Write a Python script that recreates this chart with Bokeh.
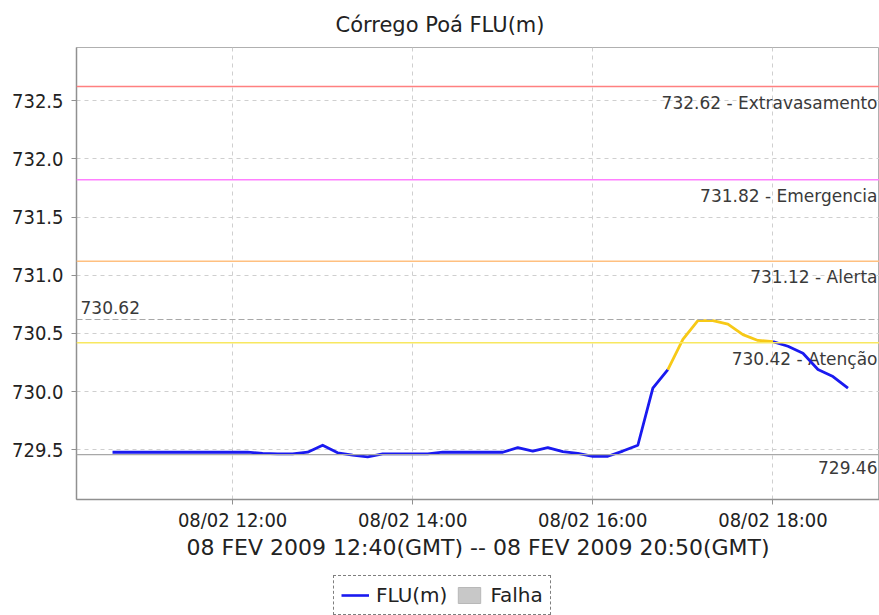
import pandas as pd
from bokeh.plotting import figure
from bokeh.layouts import column
from bokeh.models import (Range1d, FixedTicker, DatetimeTickFormatter, PrintfTickFormatter,
                          Span, ColumnDataSource, Legend, LegendItem)
from bokeh.embed import file_html
from bokeh.resources import INLINE
from bokeh.core.properties import value

# ---------------- data ----------------
titulo = "Córrego Poá FLU(m)"
eixo_x_rotulo = "08 FEV 2009 12:40(GMT) -- 08 FEV 2009 20:50(GMT)"
dia = "2009-02-08"

horas = ["10:40", "10:50", "11:00", "11:10", "11:20", "11:30", "11:40", "11:50",
         "12:00", "12:10", "12:20", "12:30", "12:40", "12:50", "13:00", "13:10",
         "13:20", "13:30", "13:40", "13:50", "14:00", "14:10", "14:20", "14:30",
         "14:40", "14:50", "15:00", "15:10", "15:20", "15:30", "15:40", "15:50",
         "16:00", "16:10", "16:20", "16:30", "16:40", "16:50", "17:00", "17:10",
         "17:20", "17:30", "17:40", "17:50", "18:00", "18:10", "18:20", "18:30",
         "18:40", "18:50"]

nivel = [729.48, 729.48, 729.48, 729.48, 729.48, 729.48, 729.48, 729.48,
         729.48, 729.48, 729.47, 729.465, 729.465, 729.48, 729.54, 729.475,
         729.455, 729.44, 729.465, 729.465, 729.465, 729.465, 729.48, 729.48,
         729.48, 729.48, 729.48, 729.52, 729.49, 729.52, 729.485, 729.47,
         729.445, 729.445, 729.49, 729.54, 730.03, 730.19, 730.45, 730.61,
         730.61, 730.58, 730.49, 730.44, 730.43, 730.39, 730.33, 730.19,
         730.13, 730.03]

# stretches drawn in the "attention" colour (start, end)
trechos_atencao = [("16:50", "18:00")]

limiares = [732.62, 731.82, 731.12, 730.42]
limiares_nomes = ["Extravasamento", "Emergencia", "Alerta", "Atenção"]

nivel_maximo = 730.62
nivel_minimo = 729.46

x_ticks_horas = ["12:00", "14:00", "16:00", "18:00"]
y_ticks = [729.5, 730.0, 730.5, 731.0, 731.5, 732.0, 732.5]

x_inicio = "10:16"
x_fim = "19:11"
y_inicio = 729.074
y_fim = 732.956

legenda = ["FLU(m)", "Falha"]

# ---------------- styles ----------------
cores_limiares = ["#FF8080", "#FF80FF", "#FFC080", "#F8E860"]
cor_normal = "#1A1AF0"
cor_atencao = "#F7C917"
cor_falha = "#c8c8c8"
texto_cor = "#3a3a3a"
FONT = "DejaVu Sans"
FONT_C = "DejaVu Sans Condensed"
NAN = float("nan")


def ts(h):
    return pd.Timestamp(f"{dia} {h}")


t = [ts(h) for h in horas]

p = figure(width=879, height=575, x_axis_type="datetime",
           output_backend="svg", toolbar_location=None,
           x_range=Range1d(ts(x_inicio), ts(x_fim)),
           y_range=Range1d(y_inicio, y_fim),
           min_border_left=76, min_border_right=0, min_border_top=46,
           min_border_bottom=76,
           background_fill_color="white", border_fill_color="white")

# title
p.title.text = titulo
p.title.align = "left"
p.title.offset = 259
p.title.text_font = FONT
p.title.text_font_size = "21px"
p.title.text_font_style = "normal"
p.title.text_color = "#222222"
p.title.standoff = 21

p.outline_line_color = "#b0b0b0"
p.outline_line_width = 1

# grid
for g in (p.xgrid, p.ygrid):
    g.grid_line_color = "#cfcfcf"
    g.grid_line_dash = "4 4"
    g.grid_line_width = 1

# axes
p.yaxis.ticker = FixedTicker(ticks=y_ticks)
p.yaxis.formatter = PrintfTickFormatter(format="%.1f")
p.xaxis.ticker = FixedTicker(ticks=[ts(h).value // 10**6 for h in x_ticks_horas])
fmt = "%d/%m %H:%M"
p.xaxis.formatter = DatetimeTickFormatter(hours=fmt, hourmin=fmt, minutes=fmt,
                                          minsec=fmt, days=fmt, seconds=fmt)
for ax in (p.xaxis, p.yaxis):
    ax.axis_line_color = "#909090"
    ax.axis_line_width = 1.5
    ax.major_tick_line_color = "#909090"
    ax.major_tick_out = 5
    ax.major_tick_in = 0
    ax.minor_tick_line_color = None
    ax.major_label_text_font = FONT_C
    ax.major_label_text_font_size = "20px"
    ax.major_label_text_color = "#222222"
p.yaxis.major_label_standoff = 8
p.xaxis.major_label_standoff = 3
p.xaxis.axis_label = eixo_x_rotulo
p.xaxis.axis_label_text_font = FONT
p.xaxis.axis_label_text_font_size = "22px"
p.xaxis.axis_label_text_font_style = "normal"
p.xaxis.axis_label_text_color = "#222222"
p.xaxis.axis_label_standoff = 0

# threshold lines
for v, c in zip(limiares, cores_limiares):
    p.add_layout(Span(location=v, dimension="width", line_color=c, line_width=1.5))
p.add_layout(Span(location=nivel_maximo, dimension="width", line_color="#a8a8a8",
                  line_width=1.2, line_dash="6 3"))
p.add_layout(Span(location=nivel_minimo, dimension="width", line_color="#a8a8a8",
                  line_width=1.2))

# threshold labels (right side, below each line)
lab_src = ColumnDataSource(dict(
    x=[ts(x_fim)] * (len(limiares) + 1),
    y=limiares + [nivel_minimo],
    text=[f"{v:.2f} - {n}" for v, n in zip(limiares, limiares_nomes)] + [f"{nivel_minimo:.2f}"],
))
p.text(x="x", y="y", text="text", source=lab_src, text_align="right",
       text_baseline="top", x_offset=-2, y_offset=6, text_font=value(FONT),
       text_font_size="17px", text_color=texto_cor)
max_src = ColumnDataSource(dict(x=[ts(x_inicio)], y=[nivel_maximo], text=[f"{nivel_maximo:.2f}"]))
p.text(x="x", y="y", text="text", source=max_src, text_align="left",
       text_baseline="bottom", x_offset=4, y_offset=-5, text_font=value(FONT),
       text_font_size="17px", text_color=texto_cor)

# series, split into normal / attention stretches
idx = {h: i for i, h in enumerate(horas)}
cortes = [0]
for a, b in trechos_atencao:
    cortes += [idx[a], idx[b]]
cortes.append(len(horas) - 1)
for k in range(len(cortes) - 1):
    i0, i1 = cortes[k], cortes[k + 1]
    cor = cor_normal if k % 2 == 0 else cor_atencao
    p.line(t[i0:i1 + 1], nivel[i0:i1 + 1], line_color=cor, line_width=2.8,
           line_join="round")

# ---------------- legend strip (below the chart) ----------------
lf = figure(width=879, height=40, output_backend="svg", toolbar_location=None,
            title=None, x_range=Range1d(0, 1), y_range=Range1d(0, 1),
            min_border=0, x_axis_location=None, y_axis_location=None,
            outline_line_color=None, background_fill_color="white",
            border_fill_color="white")
lf.grid.visible = False
r_flu = lf.line([NAN], [NAN], line_color=cor_normal, line_width=2.6)
r_falha = lf.quad(left=[NAN], right=[NAN], top=[NAN], bottom=[NAN],
                  fill_color=cor_falha, line_color="#b8b8b8")

leg = Legend(items=[LegendItem(label=legenda[0], renderers=[r_flu]),
                    LegendItem(label=legenda[1], renderers=[r_falha])],
             orientation="horizontal", location=(257, 0))
leg.label_text_font = FONT
leg.label_text_font_size = "20px"
leg.label_text_color = "#222222"
leg.glyph_width = 28
leg.glyph_height = 20
leg.label_standoff = 7
leg.spacing = 8
leg.padding = 7
leg.margin = 0
leg.border_line_color = "black"
leg.border_line_dash = "2 2"
leg.border_line_width = 1
leg.background_fill_color = "white"
lf.add_layout(leg, "center")

open("out.html", "w").write(file_html(column(p, lf, spacing=0), INLINE))
